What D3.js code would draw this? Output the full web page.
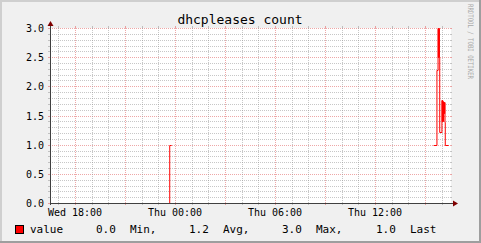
<!DOCTYPE html>
<html>
<head>
<meta charset="utf-8">
<script src="https://cdn.jsdelivr.net/npm/d3@7"></script>
<style>
  body { margin: 0; background: #f0f0f0; }
  text { font-family: "DejaVu Sans Mono", monospace; fill: #000; }
</style>
</head>
<body>
<div id="chart"></div>
<script>
// samples: time of each reading and the value (NaN = no data)
var sampleTimes = [
  "Wed 23:24", "Wed 23:41", "Wed 23:48", "Wed 23:49",
  "Thu 15:31", "Thu 15:43", "Thu 15:47", "Thu 15:48", "Thu 15:49", "Thu 15:50",
  "Thu 15:51", "Thu 15:52", "Thu 15:53", "Thu 16:01", "Thu 16:02", "Thu 16:03",
  "Thu 16:04", "Thu 16:05", "Thu 16:06", "Thu 16:07", "Thu 16:08", "Thu 16:09",
  "Thu 16:10", "Thu 16:11", "Thu 16:12", "Thu 16:13", "Thu 16:25"
];
var sampleValues = [
  0, 1, 1, NaN,
  1, 2.28, 3, 2.5, 3, 2.5,
  3, 2.5, 1.22, 1.77, 1.4, 1.77,
  1.4, 1.75, 1.4, 1.73, 1.55, 1.73,
  1.55, 1.73, 1.39, 1, 1
];
var yTicks = [0, 0.5, 1, 1.5, 2, 2.5, 3];
var seriesName = "value";
var legendStats = ["0.0", "Min,", "1.2", "Avg,", "3.0", "Max,", "1.0", "Last"];
var title = "dhcpleases count";

var W = 481, H = 243;
var x0 = 50, x1 = 450, yTop = 28, yBot = 203;

// day names -> dates (Wed 10 Jan 2024 / Thu 11 Jan 2024)
function toDate(s) {
  var day = s.slice(0, 3) == "Wed" ? 10 : 11;
  var hm = s.slice(4).split(":");
  return new Date(2024, 0, day, +hm[0], +hm[1]);
}
var data = sampleTimes.map(function(t, i) { return {t: toDate(t), v: sampleValues[i]}; });

var x = d3.scaleTime()
  .domain([new Date(2024, 0, 10, 16, 30), new Date(2024, 0, 11, 16, 30)])
  .range([x0, x1]);
var y = d3.scaleLinear().domain([0, 3]).range([yBot, yTop]);

var px = function(v) { return Math.round(v) + 0.5; };

var svg = d3.select("#chart").append("svg")
  .attr("width", W).attr("height", H);

// background + shade border
svg.append("rect").attr("width", W).attr("height", H).attr("fill", "#f0f0f0");
svg.append("rect").attr("x", 0).attr("y", 0).attr("width", W).attr("height", 2).attr("fill", "#cfcfcf");
svg.append("rect").attr("x", 0).attr("y", 0).attr("width", 2).attr("height", H).attr("fill", "#cfcfcf");
svg.append("rect").attr("x", 0).attr("y", H - 2).attr("width", W).attr("height", 2).attr("fill", "#9e9e9e");
svg.append("rect").attr("x", W - 2).attr("y", 0).attr("width", 2).attr("height", H).attr("fill", "#9e9e9e");

// canvas
svg.append("rect").attr("x", x0).attr("y", yTop).attr("width", x1 - x0 + 1).attr("height", yBot - yTop)
  .attr("fill", "#fff");

var gridCol = "rgba(143,143,143,0.5)", mgridCol = "rgba(222,80,80,0.5)";
var grid = svg.append("g").attr("shape-rendering", "crispEdges");

// horizontal grid
var minorY = d3.range(0, 31).map(function(i) { return i / 10; });
minorY.forEach(function(v) {
  var major = Math.round(v * 10) % 5 == 0;
  var col = major ? mgridCol : gridCol;
  var yy = px(y(v));
  grid.append("line").attr("x1", x0 - 2).attr("x2", x0).attr("y1", yy).attr("y2", yy).attr("stroke", col);
  grid.append("line").attr("x1", x1).attr("x2", x1 + 2).attr("y1", yy).attr("y2", yy).attr("stroke", col);
  grid.append("line").attr("x1", x0).attr("x2", x1).attr("y1", yy).attr("y2", yy)
    .attr("stroke", col).attr("stroke-dasharray", "1,1");
});

// vertical grid: hours minor, 3h major
x.ticks(d3.timeHour.every(1)).forEach(function(t) {
  var major = t.getHours() % 3 == 0;
  var col = major ? mgridCol : gridCol;
  var xx = px(x(t));
  grid.append("line").attr("x1", xx).attr("x2", xx).attr("y1", yBot).attr("y2", yBot + 2).attr("stroke", col);
  grid.append("line").attr("x1", xx).attr("x2", xx).attr("y1", yTop - 2).attr("y2", yTop).attr("stroke", col);
  grid.append("line").attr("x1", xx).attr("x2", xx).attr("y1", yTop).attr("y2", yBot)
    .attr("stroke", col).attr("stroke-dasharray", "1,1");
});

// axis labels
svg.selectAll(".ylab").data(yTicks).enter().append("text")
  .attr("x", 44).attr("y", function(d) { return px(y(d)) + 3.5; })
  .attr("text-anchor", "end").style("font-size", "10px")
  .text(function(d) { return d3.format(".1f")(d); });

svg.selectAll(".xlab").data(x.ticks(d3.timeHour.every(6))).enter().append("text")
  .attr("x", function(d) { return x(d); }).attr("y", 216)
  .attr("text-anchor", "middle").style("font-size", "10px")
  .text(d3.timeFormat("%a %H:%M"));

// data line
var line = d3.line()
  .defined(function(d) { return !isNaN(d.v); })
  .x(function(d) { return x(d.t); })
  .y(function(d) { return px(y(d.v)); })
  .curve(d3.curveStepAfter);
svg.append("path").datum(data)
  .attr("fill", "none").attr("stroke", "#ff0000").attr("stroke-width", 1)
  .attr("d", line);

// axes with arrows
var ax = svg.append("g").attr("shape-rendering", "crispEdges");
ax.append("line").attr("x1", x0 - 0).attr("x2", 454).attr("y1", px(yBot)).attr("y2", px(yBot)).attr("stroke", "#404040");
ax.append("line").attr("x1", px(x0)).attr("x2", px(x0)).attr("y1", yBot + 2).attr("y2", 24).attr("stroke", "#404040");
svg.append("path").attr("d", "M453,200.5L458,203.5L453,206.5Z").attr("fill", "#7f0000");
svg.append("path").attr("d", "M47.5,26L50.5,21L53.5,26Z").attr("fill", "#7f0000");

// title
svg.append("text").attr("x", 240).attr("y", 24).attr("text-anchor", "middle")
  .style("font-size", "13px").text(title);

// watermark
svg.append("text").attr("transform", "translate(467.5,4) rotate(90)")
  .style("font-size", "7.5px").style("fill", "#a8a8a8")
  .attr("textLength", 75).attr("lengthAdjust", "spacingAndGlyphs")
  .text("RRDTOOL / TOBI OETIKER");

// legend
svg.append("rect").attr("x", 15.5).attr("y", 225.5).attr("width", 8).attr("height", 8)
  .attr("fill", "#ff0000").attr("stroke", "#000");
svg.append("text").attr("x", 30).attr("y", 233).style("font-size", "11px").text(seriesName);
var legendX = [96, 130, 189, 223, 282, 316, 376, 410];
legendStats.forEach(function(s, i) {
  svg.append("text").attr("x", legendX[i]).attr("y", 233).style("font-size", "11px").text(s);
});
</script>
</body>
</html>
